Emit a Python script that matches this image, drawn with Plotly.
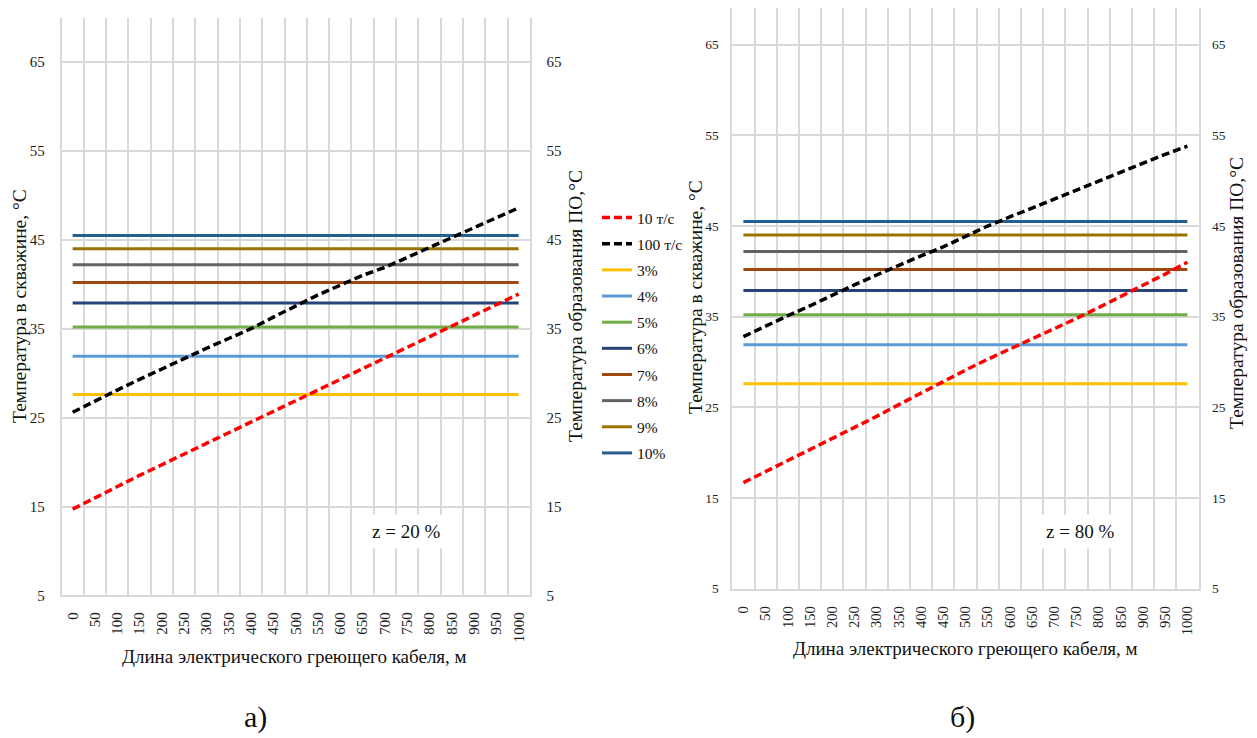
import plotly.graph_objects as go

# ---------------- data ----------------
lengths = list(range(0, 1001, 50))
categories = [str(v) for v in lengths]

pct_labels = ["3%", "4%", "5%", "6%", "7%", "8%", "9%", "10%"]
pct_values = [27.6, 31.9, 35.2, 37.9, 40.2, 42.2, 44.0, 45.5]
pct_colors = ["#FFC000", "#5B9BD5", "#70AD47", "#264478", "#9E480E",
              "#636363", "#997300", "#255E91"]

flow_labels = ["10 т/с", "100 т/с"]
flow_colors = ["#FF0000", "#000000"]

# z = 20 %
a_10 = [14.7, 16.0, 17.2, 18.5, 19.7, 20.9, 22.1, 23.2, 24.4, 25.6, 26.8,
        28.0, 29.2, 30.4, 31.6, 32.8, 34.0, 35.2, 36.4, 37.6, 38.9]
a_100 = [25.6, 26.9, 28.1, 29.3, 30.5, 31.7, 32.8, 33.9, 35.0, 36.3, 37.6,
         38.8, 39.9, 41.0, 41.9, 43.0, 44.2, 45.3, 46.4, 47.5, 48.6]
# z = 80 %
b_10 = [16.7, 17.9, 19.1, 20.3, 21.5, 22.8, 24.0, 25.3, 26.6, 27.9, 29.1,
        30.3, 31.4, 32.5, 33.7, 34.8, 36.0, 37.2, 38.4, 39.7, 41.0]
b_100 = [32.8, 34.0, 35.1, 36.2, 37.4, 38.5, 39.6, 40.7, 41.7, 42.7, 43.9,
         45.0, 46.0, 47.0, 48.0, 49.0, 49.9, 51.0, 52.0, 52.9, 53.8]

y_ticks = [5, 15, 25, 35, 45, 55, 65]

x_title = "Длина электрического греющего кабеля, м"
y_left_title = "Температура в скважине, °С"
y_right_title = "Температура образования ПО,°С"

# ---------------- figure ----------------
W, H = 1257, 738
OFF = 8  # page body margin offset
FONT = "Liberation Serif"
GRID = "#d9d9d9"


def px(x):
    return (x - OFF) / W


def py(y):
    return 1 - (y - OFF) / H


fig = go.Figure()

panels = [
    dict(x="x", y="y", y_over="y2", flows=[a_10, a_100], legend=True),
    dict(x="x2", y="y3", y_over="y4", flows=[b_10, b_100], legend=False),
]

for p in panels:
    for i, (lab, val, col) in enumerate(zip(pct_labels, pct_values, pct_colors)):
        fig.add_trace(go.Scatter(
            x=categories, y=[val] * len(categories), mode="lines", name=lab,
            line=dict(color=col, width=3), xaxis=p["x"], yaxis=p["y"],
            showlegend=p["legend"], legendgroup=lab, legendrank=3 + i,
            hoverinfo="skip"))
    for i, (lab, vals, col) in enumerate(zip(flow_labels, p["flows"], flow_colors)):
        fig.add_trace(go.Scatter(
            x=categories, y=vals, mode="lines", name=lab,
            line=dict(color=col, width=3.5, dash="8px,4px"),
            xaxis=p["x"], yaxis=p["y_over"],
            showlegend=p["legend"], legendgroup=lab, legendrank=1 + i,
            hoverinfo="skip"))

xcommon = dict(type="category", categoryorder="array", categoryarray=categories,
               range=[-0.5, 20.5], tickson="boundaries", showgrid=True,
               gridcolor=GRID, gridwidth=1.6, showline=True, linecolor=GRID,
               linewidth=1.6, tickangle=-90, ticks="", zeroline=False,
               automargin=False)
ycommon = dict(tickvals=y_ticks, showgrid=True, gridcolor=GRID, gridwidth=1.6,
               showline=True, linecolor=GRID, linewidth=1.6, zeroline=False,
               ticks="", automargin=False)

fig.update_layout(
    xaxis=dict(xcommon, domain=[px(61.5), px(529.8)], anchor="y",
               tickfont=dict(family=FONT, size=15, color="#222"),
               ticklabelstandoff=9),
    yaxis=dict(ycommon, domain=[py(595.4), py(17.6)], range=[5, 70],
               anchor="x", tickfont=dict(family=FONT, size=15, color="#222"),
               ticklabelstandoff=12),
    yaxis2=dict(ycommon, overlaying="y", side="right", anchor="x",
                range=[5, 70], showgrid=False,
                tickfont=dict(family=FONT, size=15, color="#222"),
                ticklabelstandoff=12),
    xaxis2=dict(xcommon, domain=[px(732.3), px(1198.5)], anchor="y3",
                tickfont=dict(family=FONT, size=14.5, color="#222"),
                ticklabelstandoff=10),
    yaxis3=dict(ycommon, domain=[py(588.7), py(8.4)], range=[5, 69],
                anchor="x2", tickfont=dict(family=FONT, size=13.5, color="#222"),
                ticklabelstandoff=9),
    yaxis4=dict(ycommon, overlaying="y3", side="right", anchor="x2",
                range=[5, 69], showgrid=False,
                tickfont=dict(family=FONT, size=13.5, color="#222"),
                ticklabelstandoff=9),
)

fig.update_layout(
    width=W, height=H,
    margin=dict(l=0, r=0, t=0, b=0, pad=0, autoexpand=False),
    paper_bgcolor="white", plot_bgcolor="white",
    font=dict(family=FONT, color="#111"),
    showlegend=True,
    legend=dict(x=px(597), y=py(201), xanchor="left", yanchor="top",
                font=dict(family=FONT, size=15.5, color="#111"),
                tracegroupgap=3, bgcolor="rgba(0,0,0,0)"),
)

annotations = [
    dict(text=x_title, x=px(294), y=py(656), font_size=19),
    dict(text=x_title, x=px(965.4), y=py(648), font_size=19),
    dict(text=y_left_title, x=px(19), y=py(306), textangle=-90, font_size=19.5),
    dict(text=y_right_title, x=px(575), y=py(306), textangle=-90, font_size=19.5),
    dict(text=y_left_title, x=px(695), y=py(297), textangle=-90, font_size=19.5),
    dict(text=y_right_title, x=px(1236), y=py(293), textangle=-90, font_size=19.5),
    dict(text="z = 20 %", x=px(405.7), y=py(531.7), font_size=19,
         bgcolor="white", borderpad=6),
    dict(text="z = 80 %", x=px(1079.8), y=py(531.7), font_size=19,
         bgcolor="white", borderpad=6),
    dict(text="а)", x=px(256), y=py(717), font_size=30),
    dict(text="б)", x=px(962), y=py(717), font_size=30),
]
for a in annotations:
    fs = a.pop("font_size")
    fig.add_annotation(xref="paper", yref="paper", showarrow=False,
                       xanchor="center", yanchor="middle",
                       font=dict(family=FONT, size=fs, color="#111"), **a)

fig.write_html("out.html")
